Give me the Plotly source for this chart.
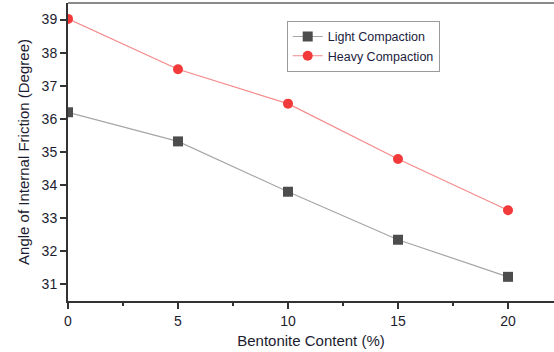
import plotly.graph_objects as go

bentonite = [0, 5, 10, 15, 20]
light = [36.2, 35.32, 33.8, 32.35, 31.23]
heavy = [39.02, 37.5, 36.46, 34.79, 33.24]

fig = go.Figure()
fig.add_trace(go.Scatter(x=bentonite, y=light, mode="lines+markers", name="Light Compaction",
                         line=dict(color="#a6a6a6", width=1.2),
                         marker=dict(symbol="square", size=10, color="#4d4d4d")))
fig.add_trace(go.Scatter(x=bentonite, y=heavy, mode="lines+markers", name="Heavy Compaction",
                         line=dict(color="#f58a8a", width=1.2),
                         marker=dict(symbol="circle", size=10, color="#f23a3a")))

font_family = "Liberation Sans, Arial, sans-serif"
fig.update_layout(
    width=554, height=352,
    margin=dict(l=68, r=0, t=3, b=51),
    plot_bgcolor="white", paper_bgcolor="white",
    font=dict(family=font_family, color="#1c1c30"),
    showlegend=True,
    legend=dict(x=0.45, y=0.94, xanchor="left", yanchor="top",
                bgcolor="white", bordercolor="#9a9a9a", borderwidth=1,
                font=dict(size=12.5, color="#1c1c40"), tracegroupgap=0,
                itemwidth=30),
    xaxis=dict(range=[0, 22.09], tickvals=[0, 5, 10, 15, 20], ticks="outside", ticklen=6,
               tickwidth=1.5, tickcolor="#333", showline=True, linecolor="#333", linewidth=2,
               showgrid=False, zeroline=False, tickfont=dict(size=14), automargin=False,
               minor=dict(tickvals=[2.5, 7.5, 12.5, 17.5], ticks="outside", ticklen=3, tickcolor="#333"),
               title=dict(text="Bentonite Content (%)", font=dict(size=15), standoff=8)),
    yaxis=dict(range=[30.5, 39.5], tickvals=[31, 32, 33, 34, 35, 36, 37, 38, 39], ticks="outside",
               ticklen=6, tickwidth=1.5, tickcolor="#333", showline=True, linecolor="#333", linewidth=2,
               showgrid=False, zeroline=False, tickfont=dict(size=14), automargin=False,
               minor=dict(tickvals=[30.5 + 0.5 * i for i in range(1, 18, 2)], ticks="outside", ticklen=3, tickcolor="#333"),
               title=dict(text="Angle of Internal Friction (Degree)", font=dict(size=15), standoff=8)),
    shapes=[dict(type="line", xref="paper", yref="paper", x0=0, x1=1, y0=1, y1=1,
                 line=dict(color="#8a8a8a", width=2))],
)
fig.write_html("out.html", config={"displayModeBar": False},
               post_script="document.body.style.margin='0';document.body.style.overflow='hidden';")
